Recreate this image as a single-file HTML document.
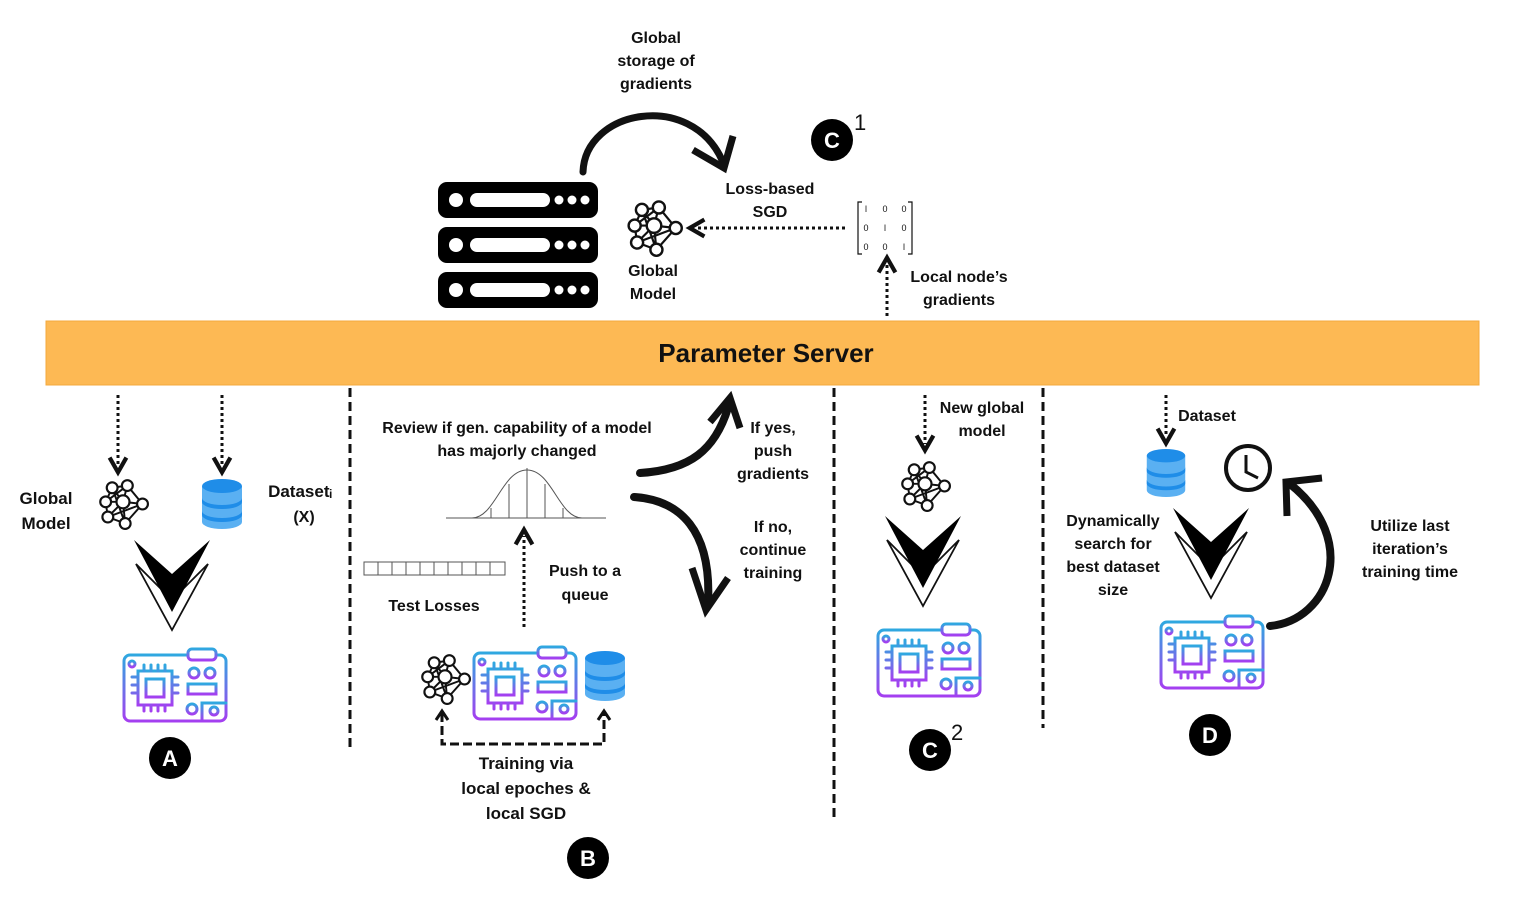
<!DOCTYPE html>
<html><head><meta charset="utf-8"><style>
html,body{margin:0;padding:0;background:#fff;width:1513px;height:906px;overflow:hidden}
svg text{font-family:"Liberation Sans",sans-serif;font-weight:bold;fill:#111;font-size:16px}
svg text.m{font-weight:normal;font-size:9px}
</style></head><body>
<svg width="1513" height="906" viewBox="0 0 1513 906" xmlns="http://www.w3.org/2000/svg">
<defs>
<linearGradient id="g" x1="0" y1="0" x2="0" y2="1"><stop offset="0" stop-color="#2fa8e0"/><stop offset="1" stop-color="#a43ff0"/></linearGradient>
<symbol id="net" viewBox="0 0 48 48">
<g stroke="#111" stroke-width="1.8" fill="none">
<path d="M14 9L28 7L42 24L26 42L10 36L8 22L14 9M14 9L24 22L42 24M28 7L24 22L26 42M8 22L24 22M10 36L24 22M8 22L28 7M14 9L26 42M10 36L42 24"/>
</g>
<g stroke="#111" stroke-width="2" fill="#fff">
<circle cx="14" cy="9" r="5"/><circle cx="28" cy="7" r="5"/><circle cx="8" cy="22" r="5"/><circle cx="24" cy="22" r="6"/><circle cx="42" cy="24" r="5"/><circle cx="10" cy="36" r="5"/><circle cx="26" cy="42" r="5"/>
</g></symbol>
<symbol id="db" viewBox="0 0 42 52">
<path d="M1 8v36a20 7 0 0 0 40 0V8z" fill="#5ab0f2"/>
<ellipse cx="21" cy="8" rx="20" ry="7" fill="#1f8de8"/>
<path d="M1 20a20 7 0 0 0 40 0v4a20 7 0 0 1 -40 0z" fill="#1f8de8"/>
<path d="M1 33a20 7 0 0 0 40 0v4a20 7 0 0 1 -40 0z" fill="#1f8de8"/>
</symbol>
<symbol id="board" viewBox="0 0 106 76">
<g stroke="url(#g)" stroke-width="3" fill="none" stroke-linecap="round">
<path d="M66 8H8a6 6 0 0 0 -6 6v54a6 6 0 0 0 6 6h90a6 6 0 0 0 6 -6V14a6 6 0 0 0 -6 -6H94"/>
<rect x="66" y="2" width="28" height="11" rx="4"/>
<path d="M73 7.5h1M79 7.5h1M85 7.5h1"/>
<circle cx="10" cy="17" r="3"/>
<rect x="16" y="24" width="34" height="34"/><rect x="24" y="32" width="18" height="18"/>
<path d="M22 24v-6M29 24v-6M36 24v-6M43 24v-6M22 58v6M29 58v6M36 58v6M43 58v6M16 30h-6M16 38h-6M16 46h-6M50 30h6M50 38h6M50 46h6"/>
<circle cx="72" cy="26" r="5"/><circle cx="88" cy="26" r="5"/>
<rect x="66" y="37" width="28" height="10"/>
<path d="M80 74V56h24"/><circle cx="70" cy="62" r="5"/><circle cx="92" cy="64" r="4"/>
</g></symbol>
<symbol id="chev" viewBox="0 0 76 92">
<polygon points="2,24 38,90 74,24 38,60" fill="#fff" stroke="#111" stroke-width="1.8"/>
<polygon points="0,0 38,72 76,0 38,34" fill="#000"/>
</symbol>
<marker id="ah" viewBox="0 0 10 10" refX="5" refY="5" markerWidth="7" markerHeight="7" orient="auto-start-reverse"><path d="M1 1L8 5L1 9" fill="none" stroke="#111" stroke-width="2"/></marker>
</defs>

<rect x="46" y="321" width="1433" height="64" fill="#fdb954" stroke="#f4a93c"/>
<text x="766" y="362" text-anchor="middle" style="font-size:26px">Parameter Server</text>

<g fill="#000">
<rect x="438" y="182" width="160" height="36" rx="9"/><rect x="438" y="227" width="160" height="36" rx="9"/><rect x="438" y="272" width="160" height="36" rx="9"/>
</g>
<g fill="#fff">
<circle cx="456" cy="200" r="7"/><rect x="470" y="193" width="80" height="14" rx="7"/><circle cx="559" cy="200" r="4.5"/><circle cx="572" cy="200" r="4.5"/><circle cx="585" cy="200" r="4.5"/>
<circle cx="456" cy="245" r="7"/><rect x="470" y="238" width="80" height="14" rx="7"/><circle cx="559" cy="245" r="4.5"/><circle cx="572" cy="245" r="4.5"/><circle cx="585" cy="245" r="4.5"/>
<circle cx="456" cy="290" r="7"/><rect x="470" y="283" width="80" height="14" rx="7"/><circle cx="559" cy="290" r="4.5"/><circle cx="572" cy="290" r="4.5"/><circle cx="585" cy="290" r="4.5"/>
</g>

<path d="M583 172C585 110 690 90 722 160" fill="none" stroke="#111" stroke-width="7" stroke-linecap="round"/>
<path d="M693 150L724 168L733 136" fill="none" stroke="#111" stroke-width="7"/>
<text x="656" y="43" text-anchor="middle">Global</text>
<text x="656" y="66" text-anchor="middle">storage of</text>
<text x="656" y="89" text-anchor="middle">gradients</text>
<circle cx="832" cy="140" r="21" fill="#000"/><text x="832" y="148" text-anchor="middle" style="fill:#fff;font-size:22px">C</text>
<text x="854" y="130" style="font-size:22px;font-weight:normal">1</text>

<use href="#net" x="625" y="199" width="58" height="58"/>
<text x="653" y="276" text-anchor="middle">Global</text><text x="653" y="299" text-anchor="middle">Model</text>
<text x="770" y="194" text-anchor="middle">Loss-based</text><text x="770" y="217" text-anchor="middle">SGD</text>
<line x1="845" y1="228" x2="696" y2="228" stroke="#111" stroke-width="3" stroke-dasharray="3 3" marker-end="url(#ah)"/>
<path d="M862 202h-4v52h4M908 202h4v52h-4" fill="none" stroke="#111" stroke-width="1.2"/>
<g text-anchor="middle">
<text class="m" x="866" y="212">l</text><text class="m" x="885" y="212">0</text><text class="m" x="904" y="212">0</text>
<text class="m" x="866" y="231">0</text><text class="m" x="885" y="231">l</text><text class="m" x="904" y="231">0</text>
<text class="m" x="866" y="250">0</text><text class="m" x="885" y="250">0</text><text class="m" x="904" y="250">l</text>
</g>
<line x1="887" y1="316" x2="887" y2="264" stroke="#111" stroke-width="3" stroke-dasharray="3 3" marker-end="url(#ah)"/>
<text x="959" y="282" text-anchor="middle">Local node’s</text><text x="959" y="305" text-anchor="middle">gradients</text>

<g stroke="#111" stroke-width="3" stroke-dasharray="9 5">
<line x1="350" y1="388" x2="350" y2="750"/><line x1="834" y1="388" x2="834" y2="822"/><line x1="1043" y1="388" x2="1043" y2="728"/>
</g>

<line x1="118" y1="395" x2="118" y2="466" stroke="#111" stroke-width="3" stroke-dasharray="3 3" marker-end="url(#ah)"/>
<line x1="222" y1="395" x2="222" y2="466" stroke="#111" stroke-width="3" stroke-dasharray="3 3" marker-end="url(#ah)"/>
<text x="46" y="504" text-anchor="middle" style="font-size:17px">Global</text><text x="46" y="529" text-anchor="middle" style="font-size:17px">Model</text>
<use href="#net" x="97" y="478" width="52" height="52"/>
<use href="#db" x="201" y="478" width="42" height="52"/>
<text x="300" y="497" text-anchor="middle" style="font-size:17px">Datasetᵢ</text><text x="304" y="522" text-anchor="middle">(X)</text>
<use href="#chev" x="134" y="540" width="76" height="92"/>
<use href="#board" x="122" y="647" width="106" height="76"/>
<circle cx="170" cy="758" r="21" fill="#000"/><text x="170" y="766" text-anchor="middle" style="fill:#fff;font-size:22px">A</text>

<text x="517" y="433" text-anchor="middle">Review if gen. capability of a model</text>
<text x="517" y="456" text-anchor="middle">has majorly changed</text>
<g stroke="#555" stroke-width="1" fill="none">
<line x1="446" y1="518" x2="606" y2="518"/>
<path d="M472 518C495 518 502 470 527 470C552 470 559 518 582 518"/>
<line x1="527" y1="468" x2="527" y2="518"/><line x1="509" y1="484" x2="509" y2="518"/><line x1="545" y1="484" x2="545" y2="518"/><line x1="491" y1="508" x2="491" y2="518"/><line x1="563" y1="508" x2="563" y2="518"/>
</g>
<g stroke="#555" stroke-width="1" fill="none"><rect x="364" y="562" width="141" height="13"/>
<path d="M378 562v13M392 562v13M406 562v13M420 562v13M434 562v13M448 562v13M462 562v13M476 562v13M490 562v13"/></g>
<text x="434" y="611" text-anchor="middle">Test Losses</text>
<line x1="524" y1="627" x2="524" y2="536" stroke="#111" stroke-width="3" stroke-dasharray="3 3" marker-end="url(#ah)"/>
<text x="585" y="576" text-anchor="middle">Push to a</text><text x="585" y="600" text-anchor="middle">queue</text>
<path d="M640 473C690 470 715 450 728 408" fill="none" stroke="#111" stroke-width="8" stroke-linecap="round"/>
<path d="M710 422L730 398L740 428" fill="none" stroke="#111" stroke-width="7"/>
<path d="M634 497C680 500 712 530 708 604" fill="none" stroke="#111" stroke-width="8" stroke-linecap="round"/>
<path d="M692 568L706 610L728 578" fill="none" stroke="#111" stroke-width="7"/>
<text x="773" y="433" text-anchor="middle">If yes,</text><text x="773" y="456" text-anchor="middle">push</text><text x="773" y="479" text-anchor="middle">gradients</text>
<text x="773" y="532" text-anchor="middle">If no,</text><text x="773" y="555" text-anchor="middle">continue</text><text x="773" y="578" text-anchor="middle">training</text>
<use href="#net" x="419" y="653" width="52" height="52"/>
<use href="#board" x="472" y="645" width="106" height="76"/>
<use href="#db" x="584" y="650" width="42" height="52"/>
<path d="M442 713V744H604V713" fill="none" stroke="#111" stroke-width="3" stroke-dasharray="9 4"/>
<path d="M436 720L442 711L448 720M598 720L604 711L610 720" fill="none" stroke="#111" stroke-width="3"/>
<text x="526" y="769" text-anchor="middle" style="font-size:17px">Training via</text>
<text x="526" y="794" text-anchor="middle" style="font-size:17px">local epoches &amp;</text>
<text x="526" y="819" text-anchor="middle" style="font-size:17px">local SGD</text>
<circle cx="588" cy="858" r="21" fill="#000"/><text x="588" y="866" text-anchor="middle" style="fill:#fff;font-size:22px">B</text>

<line x1="925" y1="395" x2="925" y2="444" stroke="#111" stroke-width="3" stroke-dasharray="3 3" marker-end="url(#ah)"/>
<text x="982" y="413" text-anchor="middle">New global</text><text x="982" y="436" text-anchor="middle">model</text>
<use href="#net" x="899" y="460" width="52" height="52"/>
<use href="#chev" x="885" y="516" width="76" height="92"/>
<use href="#board" x="876" y="622" width="106" height="76"/>
<circle cx="930" cy="750" r="21" fill="#000"/><text x="930" y="758" text-anchor="middle" style="fill:#fff;font-size:22px">C</text>
<text x="951" y="740" style="font-size:22px;font-weight:normal">2</text>

<line x1="1166" y1="395" x2="1166" y2="437" stroke="#111" stroke-width="3" stroke-dasharray="3 3" marker-end="url(#ah)"/>
<text x="1207" y="421" text-anchor="middle">Dataset</text>
<use href="#db" x="1145" y="448" width="42" height="50"/>
<circle cx="1248" cy="468" r="22" fill="#fff" stroke="#111" stroke-width="4"/>
<path d="M1246 455V472L1258 478" fill="none" stroke="#111" stroke-width="3"/>
<text x="1113" y="526" text-anchor="middle">Dynamically</text><text x="1113" y="549" text-anchor="middle">search for</text><text x="1113" y="572" text-anchor="middle">best dataset</text><text x="1113" y="595" text-anchor="middle">size</text>
<use href="#chev" x="1173" y="508" width="76" height="92"/>
<use href="#board" x="1159" y="614" width="106" height="76"/>
<path d="M1270 626C1330 620 1360 540 1290 484" fill="none" stroke="#111" stroke-width="8" stroke-linecap="round"/>
<path d="M1287 516L1286 482L1322 478" fill="none" stroke="#111" stroke-width="7"/>
<text x="1410" y="531" text-anchor="middle">Utilize last</text><text x="1410" y="554" text-anchor="middle">iteration’s</text><text x="1410" y="577" text-anchor="middle">training time</text>
<circle cx="1210" cy="735" r="21" fill="#000"/><text x="1210" y="743" text-anchor="middle" style="fill:#fff;font-size:22px">D</text>
</svg>
</body></html>
